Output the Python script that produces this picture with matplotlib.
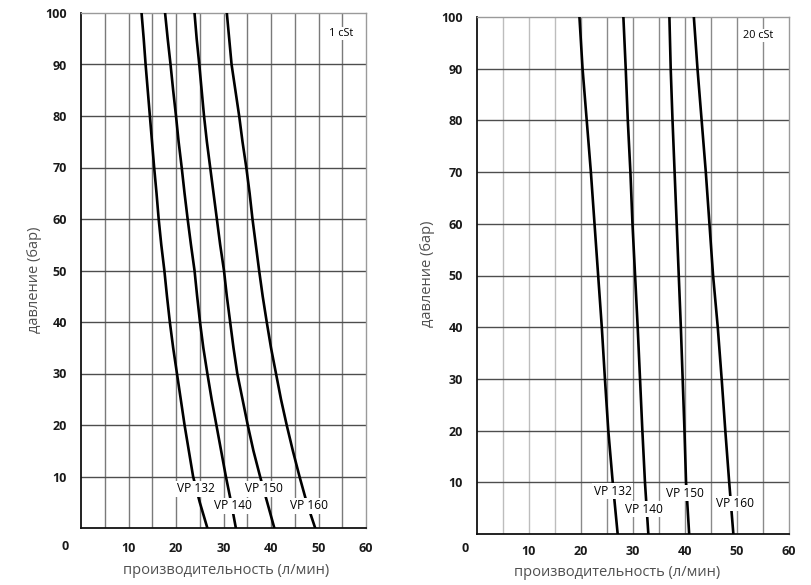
import matplotlib
matplotlib.use("Agg")
import matplotlib.pyplot as plt
import numpy as np

plt.rcParams['font.family'] = ['Open Sans', 'DejaVu Sans']

# ---- data: 1 cSt (pressure every 5 bar) ----
pressure_1cst = [100, 95, 90, 85, 80, 75, 70, 65, 60, 55, 50, 45, 40, 35, 30, 25, 20, 15, 10, 5, 0]
flow_1cst = {
    "VP 132": [12.75, 13.2, 13.6, 14.05, 14.5, 14.95, 15.4, 15.9, 16.35, 16.9, 17.55,
               18.1, 18.7, 19.4, 20.2, 21.0, 21.8, 22.7, 23.6, 25.0, 26.6],
    "VP 140": [17.7, 18.25, 18.85, 19.4, 20.0, 20.55, 21.2, 21.8, 22.45, 23.15, 23.9,
               24.45, 25.05, 25.75, 26.6, 27.5, 28.5, 29.5, 30.5, 31.6, 32.6],
    "VP 150": [23.9, 24.35, 24.9, 25.4, 25.9, 26.5, 27.2, 27.9, 28.6, 29.3, 30.1,
               30.7, 31.4, 32.1, 32.9, 34.0, 35.1, 36.3, 37.7, 39.2, 40.7],
    "VP 160": [30.7, 31.2, 31.7, 32.5, 33.3, 34.0, 34.8, 35.5, 36.1, 36.8, 37.5,
               38.25, 39.1, 40.0, 41.05, 42.1, 43.3, 44.6, 46.0, 47.5, 49.3],
}
# ---- data: 20 cSt (pressure every 10 bar) ----
pressure_20cst = [100, 90, 80, 70, 60, 50, 40, 30, 20, 10, 0]
flow_20cst = {
    "VP 132": [19.7, 20.3, 21.1, 21.9, 22.6, 23.3, 24.0, 24.6, 25.25, 26.1, 27.05],
    "VP 140": [28.15, 28.6, 29.0, 29.5, 29.9, 30.4, 30.9, 31.35, 31.8, 32.3, 32.95],
    "VP 150": [37.0, 37.25, 37.6, 38.0, 38.4, 38.8, 39.2, 39.55, 39.9, 40.2, 40.8],
    "VP 160": [41.7, 42.4, 43.2, 44.0, 44.7, 45.4, 46.3, 47.05, 47.75, 48.5, 49.3],
}
label_pos_1cst = {"VP 132": (24.1, 7.6), "VP 140": (31.9, 4.3), "VP 150": (38.5, 7.6), "VP 160": (47.9, 4.3)}
label_pos_20cst = {"VP 132": (26.1, 8.3), "VP 140": (32.1, 4.8), "VP 150": (39.9, 7.9), "VP 160": (49.7, 5.9)}

x_ticks = [10, 20, 30, 40, 50, 60]
y_ticks = [10, 20, 30, 40, 50, 60, 70, 80, 90, 100]
x_label = "производительность (л/мин)"
y_label = "давление (бар)"

W, H = 811, 585
fig = plt.figure(figsize=(W / 100, H / 100), dpi=100)

TICK_FS = 9
TICK_COL = '#1a1a1a'

def make_axes(rect_px, pressure, flows, labels, visc, vis_pos, vcols, hcol, edgecol,
              xlab_px, ylab_px, xpad, zero_px):
    x0, y_top, x1, y_bot = rect_px
    ax = fig.add_axes([x0 / W, (H - y_bot) / H, (x1 - x0) / W, (y_bot - y_top) / H])
    ax.set_xlim(0, 60)
    ax.set_ylim(0, 100)
    for i, xv in enumerate(np.arange(5, 60, 5)):
        ax.axvline(xv, color=vcols[i], lw=1.0, zorder=1)
    for yv in np.arange(10, 100, 10):
        ax.axhline(yv, color=hcol, lw=1.0, zorder=1)
    for name, xs in flows.items():
        ax.plot(xs, pressure, color='black', lw=1.9, zorder=3, solid_joinstyle='round')
        lx, ly = labels[name]
        ax.text(lx, ly, name, ha='center', va='center', fontsize=8.6, color='black', zorder=4,
                bbox=dict(facecolor='white', edgecolor='none', pad=1.0))
    ax.text(vis_pos[0], vis_pos[1], visc, ha='center', va='center', fontsize=7.8, color='black', zorder=4,
            bbox=dict(facecolor='white', edgecolor='none', pad=0.8))
    ax.set_xticks(x_ticks)
    ax.set_yticks(y_ticks)
    ax.tick_params(length=0, labelsize=TICK_FS, labelcolor=TICK_COL)
    ax.tick_params(axis='x', pad=xpad)
    ax.tick_params(axis='y', pad=10)
    for t in ax.get_xticklabels() + ax.get_yticklabels():
        t.set_fontweight('bold')
    fig.text(zero_px[0] / W, 1 - zero_px[1] / H, "0", ha='center', va='center',
             fontsize=TICK_FS, fontweight='bold', color=TICK_COL)
    for s in ['top', 'right']:
        ax.spines[s].set_color(edgecol)
        ax.spines[s].set_linewidth(1.0)
    for s in ['left', 'bottom']:
        ax.spines[s].set_color('#111111')
        ax.spines[s].set_linewidth(1.3)
    # axis titles placed by their centre in pixel coordinates
    fig.text(xlab_px[0] / W, 1 - xlab_px[1] / H, x_label, ha='center', va='center',
             fontsize=10.5, color='#505050')
    fig.text(ylab_px[0] / W, 1 - ylab_px[1] / H, y_label, ha='center', va='center',
             rotation=90, fontsize=10.5, color='#505050')
    return ax

make_axes((81, 13, 366, 528), pressure_1cst, flow_1cst, label_pos_1cst, "1 cSt", (54.7, 96.1),
          ['#7a7a7a'] * 11, '#4d4d4d', '#9a9a9a',
          (226, 570), (35, 280), 10, (65.5, 547))
make_axes((477, 17, 789, 534), pressure_20cst, flow_20cst, label_pos_20cst, "20 cSt", (54.0, 96.4),
          ['#bdbdbd'] * 3 + ['#8a8a8a'] * 8, '#4d4d4d', '#9a9a9a',
          (617, 572), (428, 274), 8, (465, 548))

fig.savefig("out.png", dpi=100, facecolor='white')
